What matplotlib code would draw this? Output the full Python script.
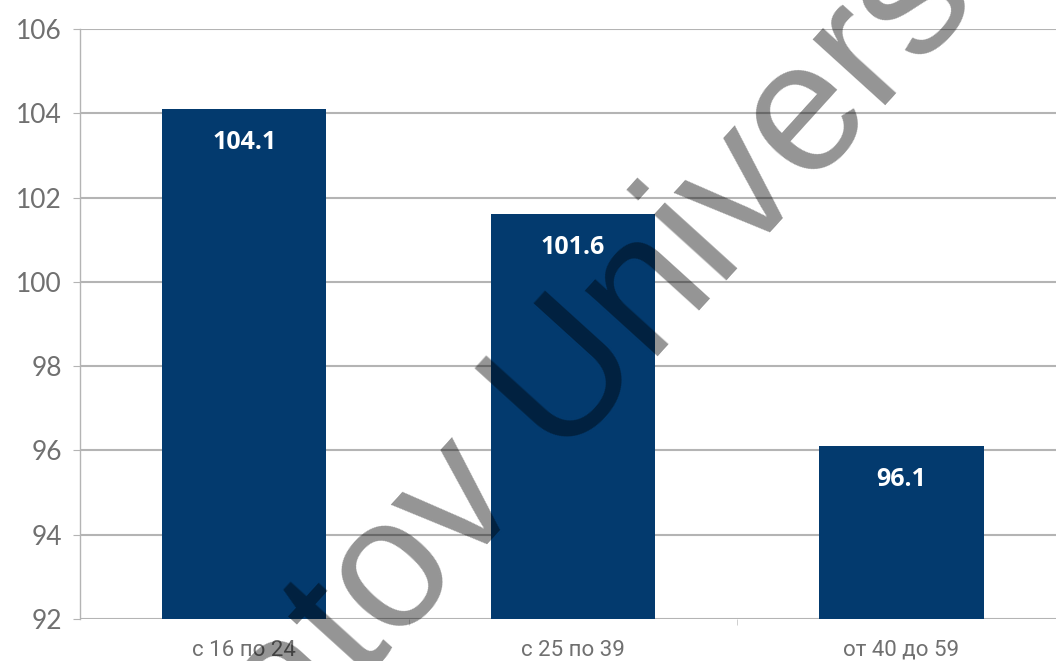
import numpy as np
import matplotlib.pyplot as plt

# age groups and values
categories = ["с 16 по 24", "с 25 по 39", "от 40 до 59"]
values = [104.1, 101.6, 96.1]
yticks = [92, 94, 96, 98, 100, 102, 104, 106]

bar_color = "#033a6e"
grid_color = "#b4b4b4"
text_color = "#707070"

fig = plt.figure(figsize=(10.56, 6.61), dpi=100)
ax = fig.add_axes([80 / 1056, 1 - 619 / 661, 1 - 80 / 1056, 590 / 661])

x = np.arange(len(categories))
bars = ax.bar(x, values, width=0.5, color=bar_color, zorder=3)

ax.set_ylim(92, 106)
ax.set_xlim(-0.5, 2.47)
ax.set_yticks(yticks)
ax.set_yticklabels([str(t) for t in yticks], fontsize=19, color=text_color, family="Lato")
ax.set_xticks(x)
ax.set_xticklabels(categories, fontsize=16, color=text_color, family="Roboto")
ax.set_xticks([0.5, 1.5], minor=True)
ax.tick_params(axis="x", which="major", length=0, pad=15)
ax.tick_params(axis="x", which="minor", length=4, color="#c8c8c8")
ax.tick_params(axis="y", length=5, color=grid_color, pad=8)

ax.grid(axis="y", color=grid_color, linewidth=1.5, zorder=0)
for s in ["top", "right", "bottom"]:
    ax.spines[s].set_visible(False)
ax.spines["left"].set_color(grid_color)
ax.spines["left"].set_linewidth(1.0)

# value labels inside the bars
for b, v in zip(bars, values):
    ax.annotate(f"{v:.1f}", (b.get_x() + b.get_width() / 2, v),
                xytext=(0, -24), textcoords="offset points",
                ha="center", va="center", color="white",
                fontsize=18, fontweight="bold", family="Open Sans", zorder=4)

# watermark
fig.text(602 / 1056, 1 - 419 / 661, "Saratov University", fontsize=133,
         family="Liberation Sans", color="black", alpha=0.42,
         rotation=47.8, rotation_mode="anchor", ha="center", va="baseline",
         zorder=10)

fig.savefig("out.png", dpi=100)
